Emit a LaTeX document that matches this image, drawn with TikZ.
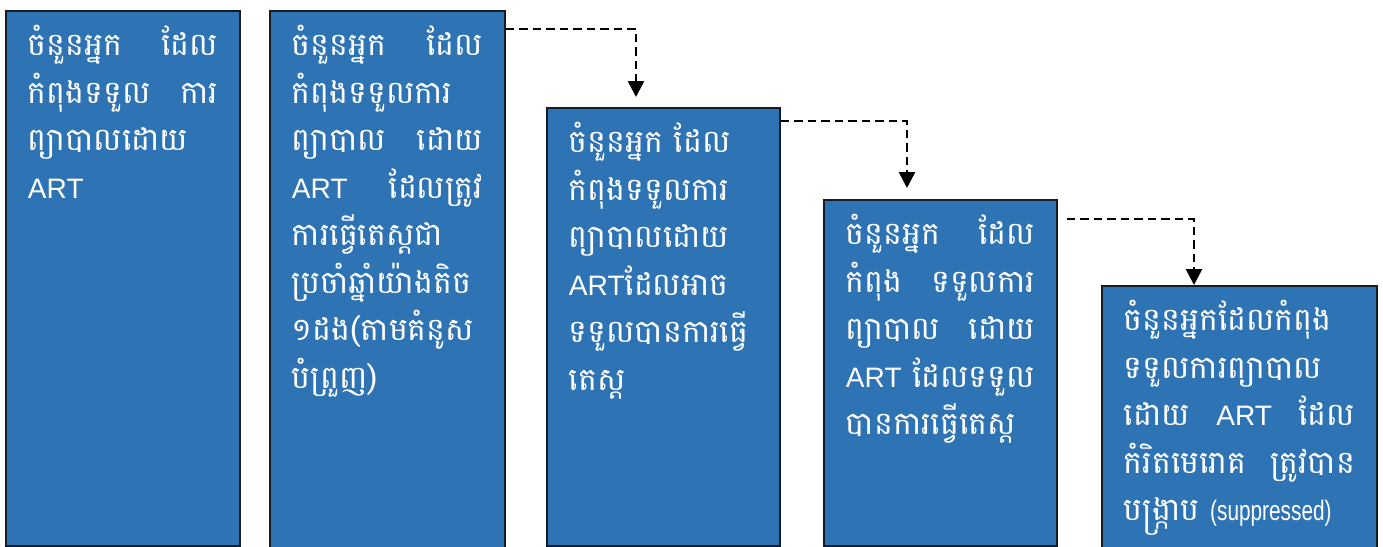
\documentclass[tikz,border=0pt]{standalone}
\usepackage{fontspec}
\usepackage{graphicx}
\usepackage{xcolor}
\usetikzlibrary{arrows.meta}
\setmainfont{Liberation Sans}
\newfontfamily\khmerfont[Script=Khmer]{Battambang}
\newfontfamily\latinfont{Liberation Sans}
\definecolor{cascadeblue}{RGB}{46, 116, 181}
\definecolor{cascadeline}{RGB}{20, 28, 40}
\setlength{\lineskiplimit}{-1cm}
\newcommand{\fullline}[1]{\makebox[\linewidth][s]{#1}}
\newcommand{\lat}[1]{{\latinfont\fontsize{16}{27}\selectfont #1}}

\begin{document}
\begin{tikzpicture}[x=0.02cm, y=-0.02cm,
  stagebox/.style={draw=cascadeline, line width=1.1pt, fill=cascadeblue, text=white, anchor=north west,
    inner xsep=0.44cm, inner ysep=0pt,
    font=\fontsize{18}{27}\selectfont\khmerfont},
  stagelink/.style={draw=black, line width=1.5pt, dash pattern=on 0.17cm off 0.1cm,
    -{Triangle[width=0.32cm,length=0.32cm]}}]
\useasboundingbox (0,0) rectangle (1383,547);

\node[stagebox] (allart) at (5,10) {\begin{minipage}[t][10.7cm][t]{3.8cm}
\rule{0pt}{0.9cm}\fullline{ចំនួនអ្នក ដែល}\\
\fullline{កំពុងទទួល ការ}\\
ព្យាបាលដោយ\\
\lat{ART}
\end{minipage}};

\node[stagebox] (yearlytest) at (269,10) {\begin{minipage}[t][10.8cm][t]{3.82cm}
\rule{0pt}{0.9cm}\fullline{ចំនួនអ្នក ដែល}\\
កំពុងទទួលការ\\
\fullline{ព្យាបាល ដោយ}\\
\fullline{\lat{ART} ដែលត្រូវ}\\
ការធ្វើតេស្តជា\\
ប្រចាំឆ្នាំយ៉ាងតិច\\
១ដង(តាមគំនូស\\
បំព្រួញ)
\end{minipage}};

\node[stagebox] (testable) at (546,107) {\begin{minipage}[t][8.76cm][t]{3.78cm}
\rule{0pt}{0.9cm}ចំនួនអ្នក ដែល\\
កំពុងទទួលការ\\
ព្យាបាលដោយ\\
\lat{ART}ដែលអាច\\
ទទួលបានការធ្វើ\\
តេស្ត
\end{minipage}};

\node[stagebox] (tested) at (823,199) {\begin{minipage}[t][6.92cm][t]{3.78cm}
\rule{0pt}{0.9cm}\fullline{ចំនួនអ្នក ដែល}\\
\fullline{កំពុង ទទួលការ}\\
\fullline{ព្យាបាល ដោយ}\\
\fullline{\lat{ART} ដែលទទួល}\\
បានការធ្វើតេស្ត
\end{minipage}};

\node[stagebox] (suppressed) at (1101,285) {\begin{minipage}[t][5.3cm][t]{4.62cm}
\rule{0pt}{0.9cm}ចំនួនអ្នកដែលកំពុង\\
ទទួលការព្យាបាល\\
\fullline{ដោយ \lat{ART} ដែល}\\
\fullline{កំរិតមេរោគ ត្រូវបាន}\\
បង្ក្រាប \lat{\scalebox{0.74}[1]{(suppressed)}}
\end{minipage}};

% dashed links between the stages
\draw[stagelink, shorten >=0.2cm] ([yshift=-0.38cm]yearlytest.north east) -| ([xshift=1.8cm]testable.north west);
\draw[stagelink, shorten >=0.22cm] ([yshift=-0.28cm]testable.north east) -| ([xshift=1.68cm]tested.north west);
\draw[stagelink] ([xshift=0.18cm,yshift=-0.4cm]tested.north east) -| ([xshift=1.86cm]suppressed.north west);
\end{tikzpicture}
\end{document}
